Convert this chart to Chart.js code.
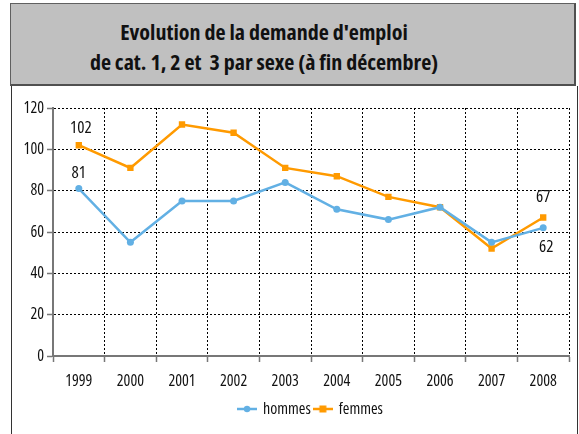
<!DOCTYPE html>
<html><head><meta charset="utf-8">
<script src="https://cdn.jsdelivr.net/npm/chart.js@4"></script>
<style>
html,body{margin:0;padding:0;background:#fff;width:579px;height:434px;overflow:hidden;position:relative;}
#title{position:absolute;left:10px;top:3px;width:563px;height:80px;background:#c0c0c0;border:1px solid #606060;border-right:2px solid #505050;border-bottom:2px solid #505050;
font-family:"Open Sans",sans-serif;font-stretch:condensed;font-weight:bold;font-size:22px;line-height:30px;text-align:center;color:#111;}
#title div{padding-top:12px;padding-right:57px;}
#box{position:absolute;left:11px;top:86px;width:565px;height:360px;border:1px solid #333;border-top:none;}
#wrap{position:absolute;left:12px;top:87px;width:564px;height:347px;}
</style></head><body>
<div id="box"></div>
<div id="title"><div>Evolution de la demande d'emploi<br>de cat. 1, 2 et&nbsp; 3 par sexe (à fin décembre)</div></div>
<div id="wrap"><canvas id="c" width="564" height="347"></canvas></div>
<script>
const years = ['1999','2000','2001','2002','2003','2004','2005','2006','2007','2008'];
const hommes = [81, 55, 75, 75, 84, 71, 66, 72, 55, 62];
const femmes = [102, 91, 112, 108, 91, 87, 77, 72, 52, 67];
const yTicks = [0, 20, 40, 60, 80, 100, 120];

const FAMILY = '"Open Sans", sans-serif';
const BLUE = '#62b0e4';
const ORANGE = '#ff9a00';

function legendIcon(color, shape){
  const c = document.createElement('canvas');
  c.width = 20; c.height = 10;
  const g = c.getContext('2d');
  g.strokeStyle = color; g.lineWidth = 2.5;
  g.beginPath(); g.moveTo(0,5); g.lineTo(20,5); g.stroke();
  g.fillStyle = color;
  if (shape === 'circle'){ g.beginPath(); g.arc(10,5,3.2,0,Math.PI*2); g.fill(); }
  else { g.fillRect(6.5,1.5,7,7); }
  return c;
}
const icons = [legendIcon(BLUE,'circle'), legendIcon(ORANGE,'rect')];

const labelPlugin = {
  id:'labels',
  afterDatasetsDraw(chart){
    const ctx = chart.ctx;
    const h = chart.getDatasetMeta(0).data, f = chart.getDatasetMeta(1).data;
    const items = [
      [f[0], femmes[0], 2, -17],
      [h[0], hommes[0], 0, -15],
      [f[9], femmes[9], 0, -20],
      [h[9], hommes[9], 3, 19],
    ];
    ctx.save();
    ctx.font = 'condensed 17px ' + FAMILY;
    ctx.fillStyle = '#111';
    ctx.textAlign = 'center';
    ctx.textBaseline = 'middle';
    items.forEach(([p, v, dx, dy]) => ctx.fillText(String(v), p.x + dx, p.y + dy));
    ctx.restore();
  }
};

const tickFont = {family: FAMILY, size: 16, weight: 'condensed'};

new Chart(document.getElementById('c'), {
  type:'line',
  data:{
    labels: years,
    datasets:[
      {label:'hommes', data: hommes, borderColor: BLUE, backgroundColor: BLUE, borderWidth: 2.5,
       pointStyle:'circle', pointRadius: 3.5, pointBorderWidth:0, tension:0},
      {label:'femmes', data: femmes, borderColor: ORANGE, backgroundColor: ORANGE, borderWidth: 2.5,
       pointStyle:'rect', pointRadius: 4.5, pointBorderWidth:0, tension:0}
    ]
  },
  options:{
    responsive:false, animation:false, devicePixelRatio:1,
    layout:{padding:{left:0, right:7, top:21, bottom:7}},
    plugins:{
      title:{display:false},
      tooltip:{enabled:false},
      legend:{
        position:'bottom',
        fullSize:false,
        labels:{
          usePointStyle:true, boxWidth:20, boxHeight:10, padding:4,
          font:{family:FAMILY, size:16, weight:'condensed'}, color:'#111',
          generateLabels(chart){
            return chart.data.datasets.map((d,i)=>({
              text:d.label, pointStyle: icons[i], fillStyle:d.borderColor, strokeStyle:d.borderColor,
              lineWidth:0, hidden:false, datasetIndex:i, fontColor:'#111'
            }));
          }
        }
      }
    },
    scales:{
      x:{
        offset:true,
        grid:{offset:true, color:'#000', lineWidth:1, drawTicks:true, tickLength:6,
              tickColor:'#777', tickWidth:1.5, tickBorderDash:[]},
        border:{display:true, color:'#777', width:2, dash:[2,2]},
        ticks:{font:tickFont, color:'#111', padding:10, maxRotation:0},
        afterFit(s){ s.height = 41; }
      },
      y:{
        min:0, max:120,
        afterBuildTicks(s){ s.ticks = yTicks.map(v=>({value:v})); },
        grid:{color:'#000', lineWidth:1, drawTicks:true, tickLength:6,
              tickColor:'#777', tickWidth:1.5, tickBorderDash:[]},
        border:{display:true, color:'#777', width:2, dash:[2,2]},
        ticks:{font:tickFont, color:'#111', padding:3},
        afterFit(s){ s.width = 41; }
      }
    }
  },
  plugins:[labelPlugin]
});
</script>
</body></html>
